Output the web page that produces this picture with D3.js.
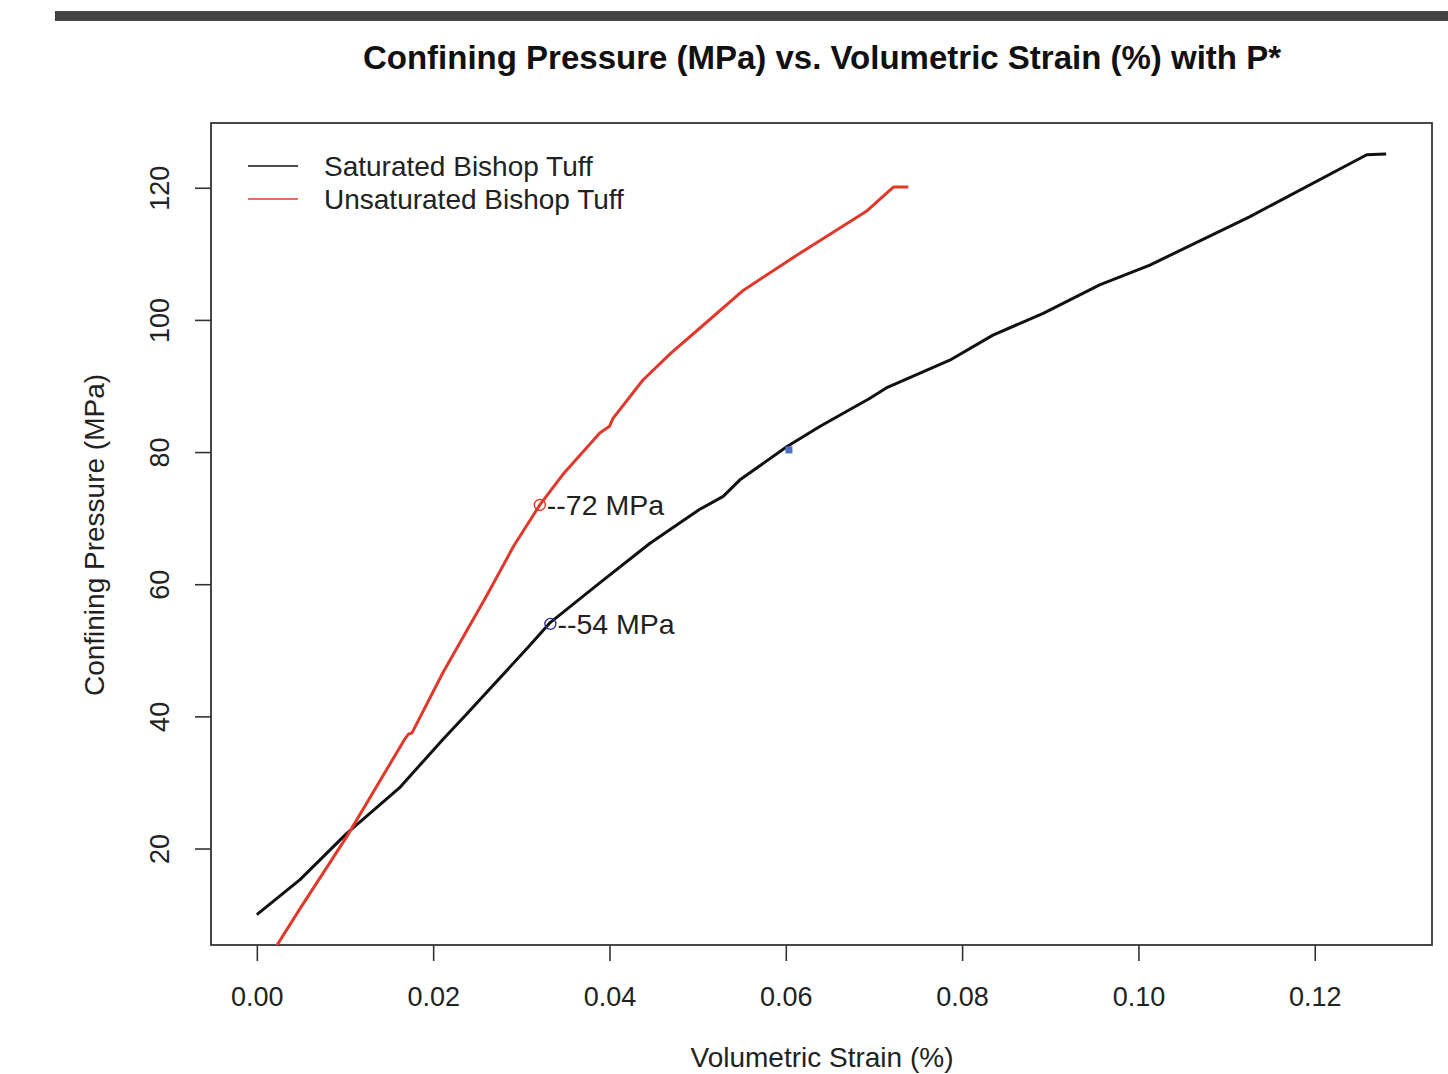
<!DOCTYPE html>
<html>
<head>
<meta charset="utf-8">
<script src="https://cdn.jsdelivr.net/npm/d3@7"></script>
<style>
  body { margin: 0; background: #fff; }
  svg { display: block; font-family: "Liberation Sans", Arial, sans-serif; }
</style>
</head>
<body>
<svg id="chart" width="1448" height="1074"></svg>
<script>
// saturated Bishop tuff
const satStrain = [0, 0.0049, 0.0102, 0.0162, 0.0170, 0.0211, 0.0237, 0.0310, 0.0332, 0.0389, 0.0446, 0.0502, 0.0529, 0.0548, 0.0601, 0.0639, 0.0695, 0.0714, 0.0786, 0.0835, 0.0892, 0.0956, 0.1013, 0.1126, 0.1259, 0.1281];
const satPressure = [10.0, 15.3, 22.3, 29.2, 30.4, 36.5, 40.2, 50.8, 54.1, 60.2, 66.2, 71.3, 73.3, 75.8, 80.8, 83.9, 88.1, 89.7, 93.9, 97.7, 101.0, 105.3, 108.3, 115.6, 125.0, 125.1];
// unsaturated Bishop tuff
const unsatStrain = [0.0012, 0.0023, 0.0049, 0.0102, 0.0168, 0.0172, 0.0176, 0.0211, 0.0260, 0.0291, 0.0321, 0.0347, 0.0389, 0.0400, 0.0404, 0.0438, 0.0470, 0.0502, 0.0552, 0.0616, 0.0691, 0.0722, 0.0739];
const unsatPressure = [3.0, 5.4, 10.9, 21.8, 36.6, 37.3, 37.5, 46.6, 58.1, 65.7, 72.0, 76.6, 82.9, 83.9, 85.1, 90.9, 95.0, 98.7, 104.5, 110.1, 116.4, 120.1, 120.1];

const seriesNames = ["Saturated Bishop Tuff", "Unsaturated Bishop Tuff"];
const seriesColors = ["#111111", "#e0382a"];

// P* markers
const pStarStrain = [0.0321, 0.0333];
const pStarPressure = [72, 54];
const pStarLabels = ["--72 MPa", "--54 MPa"];
const pStarColors = ["#e0382a", "#2a2f9c"];

const xTicks = [0, 0.02, 0.04, 0.06, 0.08, 0.10, 0.12];
const yTicks = [20, 40, 60, 80, 100, 120];

const svg = d3.select("#chart");
const margin = {top: 123, left: 211};
const width = 1221, height = 822;

// dark band at the top of the screenshot
svg.append("rect").attr("x", 55).attr("y", 11).attr("width", 1393).attr("height", 10).attr("fill", "#444");

svg.append("text")
    .attr("x", 822).attr("y", 69)
    .attr("text-anchor", "middle")
    .attr("font-size", 33).attr("font-weight", "bold").attr("fill", "#111")
    .text("Confining Pressure (MPa) vs. Volumetric Strain (%) with P*");

const x = d3.scaleLinear().domain([-0.0052, 0.1333]).range([0, width]);
const y = d3.scaleLinear().domain([5.4, 129.8]).range([height, 0]);

const plot = svg.append("g").attr("transform", "translate(" + margin.left + "," + margin.top + ")");

plot.append("clipPath").attr("id", "clip")
    .append("rect").attr("width", width).attr("height", height);

// x axis
const xAxis = plot.append("g")
    .attr("transform", "translate(0," + height + ")")
    .call(d3.axisBottom(x).tickValues(xTicks).tickFormat(d3.format(".2f")).tickSize(16).tickPadding(26));
xAxis.select(".domain").remove();
xAxis.selectAll("line").attr("stroke", "#333").attr("stroke-width", 1.6);
xAxis.selectAll("text").attr("font-size", 27).attr("fill", "#222").attr("font-family", "Liberation Sans, Arial, sans-serif");

// y axis with rotated labels
const yAxis = plot.append("g")
    .call(d3.axisLeft(y).tickValues(yTicks).tickSize(16).tickPadding(0));
yAxis.select(".domain").remove();
yAxis.selectAll("line").attr("stroke", "#333").attr("stroke-width", 1.6);
yAxis.selectAll("text")
    .attr("font-size", 27).attr("fill", "#222").attr("font-family", "Liberation Sans, Arial, sans-serif")
    .attr("text-anchor", "middle").attr("dy", null)
    .attr("x", null)
    .attr("transform", "translate(-42,0) rotate(-90)");

// frame
plot.append("rect").attr("width", width).attr("height", height)
    .attr("fill", "none").attr("stroke", "#333").attr("stroke-width", 1.8);

const line = d3.line().x(d => x(d[0])).y(d => y(d[1]));
const curves = [d3.zip(satStrain, satPressure), d3.zip(unsatStrain, unsatPressure)];

plot.append("g").attr("clip-path", "url(#clip)")
    .selectAll("path").data(curves).join("path")
    .attr("d", line)
    .attr("fill", "none")
    .attr("stroke", (d, i) => seriesColors[i])
    .attr("stroke-width", 3)
    .attr("stroke-linejoin", "round");

// stray blue point near 0.06
plot.append("rect")
    .attr("x", x(0.0603) - 3).attr("y", y(80.4) - 3)
    .attr("width", 7).attr("height", 7).attr("fill", "#4a70c8");

// P* markers and labels
const marks = plot.append("g");
marks.selectAll("circle").data(pStarStrain).join("circle")
    .attr("cx", (d, i) => x(d)).attr("cy", (d, i) => y(pStarPressure[i]))
    .attr("r", 5.5).attr("fill", "none")
    .attr("stroke", (d, i) => pStarColors[i]).attr("stroke-width", 1.4);
marks.selectAll("text").data(pStarLabels).join("text")
    .attr("x", (d, i) => x(pStarStrain[i]) + 7)
    .attr("y", (d, i) => y(pStarPressure[i]) + 10)
    .attr("font-size", 28.5).attr("fill", "#222")
    .text(d => d);

// legend
const legend = plot.append("g").attr("transform", "translate(37,43)");
seriesNames.forEach((name, i) => {
    legend.append("line")
        .attr("x1", 0).attr("x2", 50).attr("y1", i * 33).attr("y2", i * 33)
        .attr("stroke", seriesColors[i]).attr("stroke-width", 1.3);
    legend.append("text")
        .attr("x", 76).attr("y", i * 33 + 10)
        .attr("font-size", 28).attr("fill", "#222")
        .text(name);
});

// axis titles
svg.append("text")
    .attr("x", 822).attr("y", 1067)
    .attr("text-anchor", "middle").attr("font-size", 28).attr("fill", "#222")
    .text("Volumetric Strain (%)");
svg.append("text")
    .attr("transform", "translate(104,535) rotate(-90)")
    .attr("text-anchor", "middle").attr("font-size", 28).attr("fill", "#222")
    .text("Confining Pressure (MPa)");
</script>
</body>
</html>
